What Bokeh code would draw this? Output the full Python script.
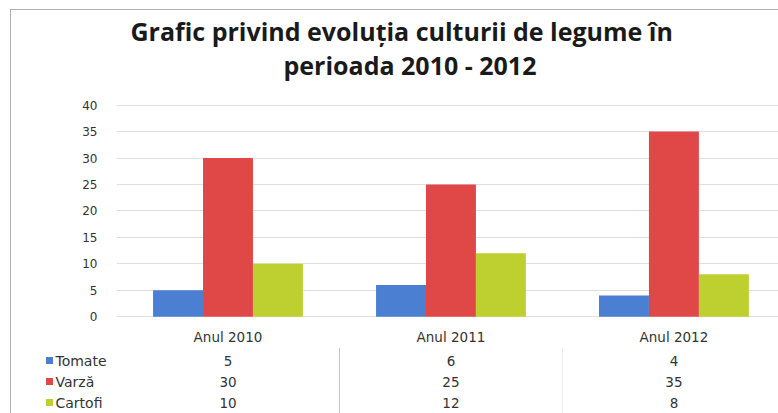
from bokeh.plotting import figure
from bokeh.layouts import column
from bokeh.models import ColumnDataSource, Range1d, FixedTicker, Title
from bokeh.transform import dodge
from bokeh.core.properties import value
from bokeh.embed import file_html
from bokeh.resources import INLINE

# ---- data ----
years = ["Anul 2010", "Anul 2011", "Anul 2012"]
series = ["Tomate", "Varză", "Cartofi"]
tomate = [5, 6, 4]
varza = [30, 25, 35]
cartofi = [10, 12, 8]
colors = ["#4a7fd2", "#e04848", "#bdd030"]
y_ticks = [0, 5, 10, 15, 20, 25, 30, 35, 40]
title_line1 = "Grafic privind evoluția culturii de legume în"
title_line2 = "perioada 2010 - 2012"

values = [tomate, varza, cartofi]
xs = list(range(len(years)))
cols = ["s0", "s1", "s2"]
data = dict(x=xs)
for c, v in zip(cols, values):
    data[c] = v
src = ColumnDataSource(data)

FONT = "DejaVu Sans"
TXT = "#333333"
TSIZE = "13.5px"
X_END = 2.469

# ---------------- chart ----------------
p = figure(width=767, height=337, output_backend="svg", toolbar_location=None, title=None,
           x_range=Range1d(-0.5, X_END), y_range=Range1d(-0.73, 41.83),
           min_border_left=105, min_border_right=0, min_border_bottom=19, min_border_top=85,
           background_fill_color="white", border_fill_color="white")

bw = 0.224
offsets = [-bw, 0, bw]
for c, off, col in zip(cols, offsets, colors):
    p.vbar(x=dodge("x", off, range=p.x_range), top=c, width=bw, source=src,
           fill_color=col, line_color=None)

# x axis = header row of the data table
p.xaxis.ticker = FixedTicker(ticks=xs)
p.xaxis.major_label_overrides = {x: y for x, y in zip(xs, years)}
p.xaxis.axis_line_color = None
p.xaxis.major_tick_line_color = None
p.xaxis.minor_tick_line_color = None
p.xaxis.major_label_standoff = 2
p.xaxis.major_label_text_font = FONT
p.xaxis.major_label_text_font_size = TSIZE
p.xaxis.major_label_text_color = TXT

p.xgrid.visible = False
p.ygrid.grid_line_color = "#e0e0e0"
p.ygrid.ticker = FixedTicker(ticks=y_ticks)
p.yaxis.ticker = FixedTicker(ticks=y_ticks)
p.yaxis.axis_line_color = None
p.yaxis.major_tick_line_color = None
p.yaxis.minor_tick_line_color = None
p.yaxis.major_label_standoff = 13
p.yaxis.major_label_text_font = FONT
p.yaxis.major_label_text_font_size = "12px"
p.yaxis.major_label_text_color = TXT
p.outline_line_color = None

t2 = Title(text=title_line2, align="left", offset=167, standoff=28, text_font="Open Sans",
           text_font_size="25px", text_font_style="bold", text_color="#1a1a1a")
t1 = Title(text=title_line1, align="left", offset=14, standoff=-33, text_font="Open Sans",
           text_font_size="25px", text_font_style="bold", text_color="#1a1a1a")
p.add_layout(t2, "above")
p.add_layout(t1, "above")

# ---------------- data table ----------------
X_START = -0.5 - 105 / 223
TH = 66
t = figure(width=767, height=TH, output_backend="svg", toolbar_location=None, title=None,
           x_range=Range1d(X_START, X_END), y_range=Range1d(TH, 0),
           min_border_left=0, min_border_right=0, min_border_bottom=0, min_border_top=0,
           background_fill_color="white", border_fill_color="white")
for fig in (p, t):
    try:
        fig.frame_align = False
    except Exception:
        pass
t.axis.visible = False
t.grid.visible = False
t.outline_line_color = None

row_y = [13, 34, 55]
tx, ty, tt = [], [], []
for i, v in enumerate(values):
    for j, val in enumerate(v):
        tx.append(xs[j]); ty.append(row_y[i]); tt.append(str(val))
t.text(x=tx, y=ty, text=tt, text_align="center", text_baseline="middle",
       text_font=value(FONT), text_font_size=TSIZE, text_color=TXT)

# legend keys inside the table
key_x = X_START + 38 / 223
lab_x = X_START + 44 / 223
t.scatter(x=[key_x] * len(series), y=row_y, marker="square", size=7, fill_color=colors,
          line_color=None)
t.text(x=[lab_x] * len(series), y=row_y, text=series, text_align="left", text_baseline="middle",
       text_font=value(FONT), text_font_size="14px", text_color=TXT)

sep_x = [i + 0.5 for i in xs[:-1]]
t.segment(x0=sep_x, x1=sep_x, y0=[0] * len(sep_x), y1=[TH] * len(sep_x),
          line_color=["#c4c4c4", "#ededed"], line_width=1)

layout = column(p, t, spacing=0,
                styles={"margin-left": "10px", "margin-top": "9px",
                        "border-left": "1px solid #b0b0b0", "border-top": "1px solid #b0b0b0"})

open("out.html", "w").write(file_html(layout, INLINE))
